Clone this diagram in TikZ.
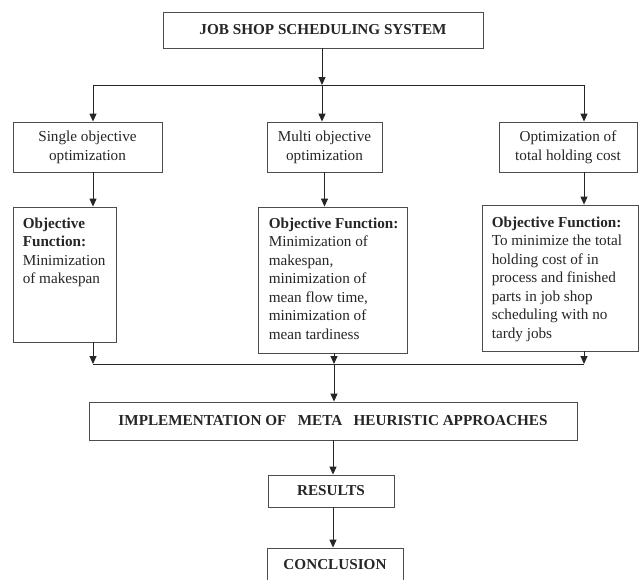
\documentclass[tikz,border=0pt]{standalone}
\usepackage{fontspec}
\setmainfont{Liberation Serif}
\usetikzlibrary{arrows.meta}
\begin{document}
\begin{tikzpicture}[x=1pt,y=-1pt,
  box/.style={draw=black!70, line width=0.85pt, rectangle, inner sep=0pt, align=center,
    font=\fontsize{15.2}{19}\selectfont, text=black!85},
  hd/.style={box, font=\bfseries\fontsize{15.2}{19}\selectfont},
  txt/.style={inner sep=0pt, align=left, anchor=north west,
    font=\fontsize{15.2}{18.5}\selectfont, text=black!85},
  ln/.style={draw=black!85, line width=1pt},
  arr/.style={ln, -{Triangle[length=8pt,width=7pt]}}]
\useasboundingbox (0,0) rectangle (640,579);
\clip (0,0) rectangle (640,579);
\fill[white] (0,0) rectangle (640,579);

% top box
\node[hd, minimum width=320pt, minimum height=36pt] (title) at (323,30) {JOB SHOP SCHEDULING SYSTEM};

% first row
\node[box, minimum width=149pt, minimum height=50pt] (b1) at (87.5,147) {Single objective\\optimization};
\node[box, minimum width=115pt, minimum height=50pt] (b2) at (324.5,147) {Multi objective\\optimization};
\node[box, minimum width=138pt, minimum height=50pt] (b3) at (568,147) {Optimization of\\total holding cost};

% second row
\node[box, minimum width=103pt, minimum height=135pt] (b4) at (64.5,274.5) {};
\node[box, minimum width=149pt, minimum height=146pt] (b5) at (332.5,280) {};
\node[box, minimum width=156pt, minimum height=146pt] (b6) at (560,278) {};

\node[txt] (t4) at ([xshift=10pt,yshift=-11pt]b4.north west)
  {\textbf{Objective}\\\textbf{Function:}\\Minimization\\of makespan};
\node[txt] (t5) at ([xshift=11pt,yshift=-11pt]b5.north west)
  {\textbf{Objective Function:}\\Minimization of\\makespan,\\minimization of\\mean flow time,\\minimization of\\mean tardiness};
\node[txt] (t6) at ([xshift=10pt,yshift=-12pt]b6.north west)
  {\textbf{Objective Function:}\\To minimize the total\\holding cost of in\\process and finished\\parts in job shop\\scheduling with no\\tardy jobs};

% lower boxes
\node[hd, minimum width=488pt, minimum height=38pt] (impl) at (333,421) {IMPLEMENTATION OF\ \ \ META\ \ \ HEURISTIC APPROACHES};
\node[hd, minimum width=126pt, minimum height=32pt] (res) at (331,491) {RESULTS};
\node[hd, minimum width=136pt, minimum height=33pt] (conc) at (335,564.5) {CONCLUSION};

% junctions
\coordinate (jL) at (93,85);
\coordinate (jM) at (322,85);
\coordinate (jR) at (584,85);
\coordinate (kL) at (93,364);
\coordinate (kM) at (334,364);
\coordinate (kR) at (584,364);
\coordinate (vM) at (333,450);

% connectors top
\draw[arr] (title.south -| jM) -- (jM);
\draw[ln] (jL) -- (jR);
\draw[arr] (jL) -- (b1.north -| jL);
\draw[arr] (jM) -- (b2.north -| jM);
\draw[arr] (jR) -- (b3.north -| jR);

\draw[arr] (b1.south -| jL) -- (b4.north -| jL);
\draw[arr] (b2.south) -- (b2.south |- b5.north);
\draw[arr] (b3.south -| jR) -- (b6.north -| jR);

% connectors bottom
\draw[ln] (kL) -- (kR);
\draw[arr] (b4.south -| kL) -- (kL);
\draw[arr] (b5.south -| kM) -- (kM);
\draw[arr] (b6.south -| kR) -- (kR);
\draw[arr] (kM) -- (impl.north -| kM);
\draw[arr] (impl.south -| vM) -- (res.north -| vM);
\draw[arr] (res.south -| vM) -- (conc.north -| vM);
\end{tikzpicture}
\end{document}
